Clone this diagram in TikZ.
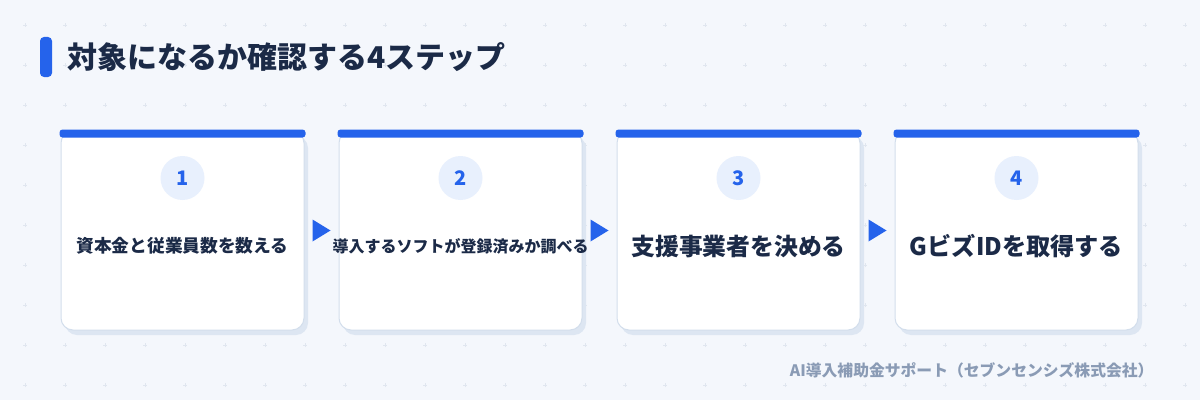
\documentclass[tikz,border=0pt]{standalone}
\usepackage{fontspec}
\setmainfont{Noto Sans CJK JP}
\usetikzlibrary{shapes.geometric, arrows.meta, positioning, shadows, calc}
\definecolor{pagebg}{HTML}{F4F7FC}
\definecolor{gridmark}{HTML}{E0E6EF}
\definecolor{accent}{HTML}{2563EB}
\definecolor{ink}{HTML}{1B2A47}
\definecolor{cardline}{HTML}{D3DEEC}
\definecolor{cardshadow}{HTML}{DDE6F2}
\definecolor{dotfill}{HTML}{E8F0FD}
\definecolor{muted}{HTML}{8A9BB5}
\tikzstyle{card} = [rectangle, rounded corners=12pt, minimum width=243pt, minimum height=199pt, draw=cardline, line width=1pt, fill=white, drop shadow={shadow xshift=4pt, shadow yshift=-5pt, fill=cardshadow, opacity=1}]
\tikzstyle{topbar} = [fill=accent, rounded corners=3pt]
\tikzstyle{numdot} = [circle, minimum size=44pt, inner sep=0pt, fill=dotfill, text=accent, font=\bfseries\fontsize{20}{20}\selectfont]
\tikzstyle{steptext} = [text=ink, inner sep=0pt, font=\bfseries\fontsize{17.7}{17.7}\selectfont]
\tikzstyle{nexttri} = [fill=accent]

\begin{document}
\begin{tikzpicture}[x=1pt, y=1pt, node distance=278pt]
\useasboundingbox (0,0) rectangle (1200,400);
\fill[pagebg] (0,0) rectangle (1200,400);
\foreach \i in {0,...,29}
  \foreach \j in {0,...,9}
    \draw[gridmark, line width=0.8pt] ({23+40*\i},{375-40*\j}) -- ++(4,0) ({25+40*\i},{373-40*\j}) -- ++(0,4);

% Title
\fill[accent, rounded corners=4pt] (40,323) rectangle (52,363);
\node (title) [anchor=west, text=ink, font=\bfseries\fontsize{30}{30}\selectfont] at (64,343) {対象になるか確認する4ステップ};

% Nodes
\node (c1) [card] at (182.5,169.5) {};
\node (c2) [card, right of=c1] {};
\node (c3) [card, right of=c2] {};
\node (c4) [card, right of=c3] {};

\foreach \c in {c1,c2,c3,c4}
  \fill[topbar] ([xshift=-1pt,yshift=1pt]\c.north west) rectangle ([xshift=1pt,yshift=-7pt]\c.north east);

\node (n1) [numdot] at ([yshift=52.5pt]c1.center) {1};
\node (n2) [numdot] at ([yshift=52.5pt]c2.center) {2};
\node (n3) [numdot] at ([yshift=52.5pt]c3.center) {3};
\node (n4) [numdot] at ([yshift=52.5pt]c4.center) {4};

\node (t1) [steptext] at ([yshift=-15pt]c1.center) {資本金と従業員数を数える};
\node (t2) [steptext, font=\bfseries\fontsize{16}{16}\selectfont] at ([yshift=-16pt]c2.center) {導入するソフトが登録済みか調べる};
\node (t3) [steptext, font=\bfseries\fontsize{23.8}{23.8}\selectfont] at ([yshift=-16pt]c3.center) {支援事業者を決める};
\node (t4) [steptext, font=\bfseries\fontsize{24.2}{24.2}\selectfont] at ([yshift=-16pt]c4.center) {GビズIDを取得する};

% Arrows
\foreach \a/\b in {c1/c2,c2/c3,c3/c4}
  \fill[nexttri] ($(\a.east)!0.5!(\b.west)+(-9,-11)$) -- ($(\a.east)!0.5!(\b.west)+(9,0)$) -- ($(\a.east)!0.5!(\b.west)+(-9,11)$) -- cycle;

% Footer
\node (credit) [anchor=east, text=muted, font=\bfseries\fontsize{15.8}{15.8}\selectfont] at (1157,30) {AI導入補助金サポート（セブンセンシズ株式会社）};

\end{tikzpicture}
\end{document}
